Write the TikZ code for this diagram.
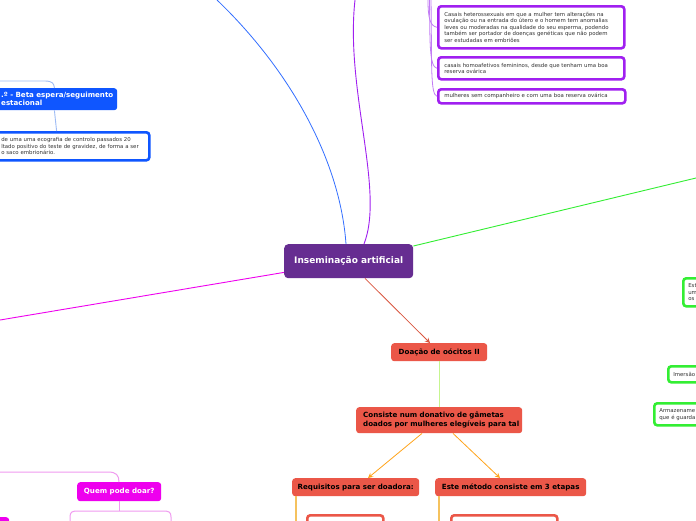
\documentclass[tikz,border=0pt]{standalone}
\usepackage{fontspec}
\setmainfont{DejaVu Sans}
\usetikzlibrary{arrows.meta,calc}
\definecolor{cpurple}{HTML}{662D91}
\definecolor{vpurple}{HTML}{A020F0}
\definecolor{lpurple}{HTML}{C27CF5}
\definecolor{cblue}{HTML}{0F56FF}
\definecolor{lblue}{HTML}{9EBBF5}
\definecolor{cgreen}{HTML}{33EE33}
\definecolor{cred}{HTML}{EB5748}
\definecolor{dred}{HTML}{D9553F}
\definecolor{lgreen}{HTML}{C6F58F}
\definecolor{corange}{HTML}{FFA41B}
\definecolor{cyellow}{HTML}{F5C25E}
\definecolor{cmag}{HTML}{EE00EE}
\definecolor{lmag}{HTML}{F09BF0}
\definecolor{tgray}{HTML}{333333}
\tikzset{
  base/.style={rounded corners=3pt, inner ysep=0pt, anchor=north west, align=left},
  smalltxt/.style={font=\fontsize{5.4}{6.6}\selectfont, text=tgray},
  headtxt/.style={font=\bfseries\fontsize{7.1}{9}\selectfont},
  centralbox/.style={base, fill=cpurple, text=white, font=\bfseries\fontsize{9}{10}\selectfont, align=center, rounded corners=4pt},
  purplebox/.style={base, smalltxt, draw=vpurple, line width=2.6pt, fill=white, inner xsep=6pt},
  greenbox/.style={base, smalltxt, draw=cgreen, line width=2.6pt, fill=white, inner xsep=5pt},
  bluenode/.style={base, headtxt, fill=cblue, text=white},
  bluebox/.style={base, smalltxt, draw=cblue, line width=2.6pt, fill=white},
  rednode/.style={base, headtxt, fill=cred, text=black},
  redbox/.style={base, draw=cred, line width=2.6pt, fill=white},
  magnode/.style={base, headtxt, fill=cmag, text=white, align=center},
  bluecurve/.style={draw=cblue!85!white, line width=0.8pt},
  purplecurve/.style={draw=vpurple, line width=0.9pt},
  lpline/.style={draw=lpurple, line width=0.8pt},
  lbline/.style={draw=lblue, line width=0.9pt},
  magline/.style={draw=cmag, line width=0.9pt},
  lmline/.style={draw=lmag, line width=1pt},
  greenline/.style={draw=cgreen, line width=0.9pt},
  redarrow/.style={draw=dred, line width=0.8pt, -{Stealth[length=5pt,width=5pt]}},
  orangearrow/.style={draw=corange, line width=0.8pt, -{Stealth[length=5pt,width=5pt]}},
  lgline/.style={draw=lgreen, line width=1.1pt},
  yline/.style={draw=cyellow, line width=1.1pt},
}
\begin{document}
\begin{tikzpicture}[x=1pt,y=-1pt]
\fill[white] (0,0) rectangle (696,520);
\useasboundingbox (0,0) rectangle (696,520);

% central
\node[centralbox, minimum width=129, minimum height=34] (ia) at (284,244) {Inseminação artificial};

% top purple boxes
\node[purplebox, minimum width=186, minimum height=42, text width=174] (p1) at (437,5)
 {Casais heterossexuais em que a mulher tem alterações na\\ovulação ou na entrada do útero e o homem tem anomalias\\leves ou moderadas na qualidade do seu esperma, podendo\\também ser portador de doenças genéticas que não podem\\ser estudadas em embriões};
\node[purplebox, minimum width=186, minimum height=22, text width=174] (p2) at (437,56)
 {casais homoafetivos femininos, desde que tenham uma boa\\reserva ovárica};
\node[purplebox, minimum width=187, minimum height=14, text width=175] (p3) at (437,88)
 {mulheres sem companheiro e com uma boa reserva ovárica};

\coordinate (lp1) at (428,0);
\coordinate (lp2) at (429.5,0);
\coordinate (lp3) at (431,0);
\draw[lpline] (lp1) .. controls (428,18) and (430,26) .. (p1.west);
\draw[lpline] (lp2) .. controls (430,40) and (429,67) .. (p2.west);
\draw[lpline] (lp3) .. controls (432,60) and (430,95) .. (p3.west);

% big curves
\coordinate (btop) at (217,0);
\coordinate (ptop) at (355,0);
\draw[bluecurve] ($(ia.north west)+(62,0)$) .. controls (340,160) and (290,70) .. (btop);
\draw[purplecurve] ($(ia.north west)+(80,0)$) .. controls (385,190) and (345,90) .. (ptop);

% blue section
\node[bluenode, minimum width=127, minimum height=22, text width=127, inner xsep=0pt, font=\bfseries\fontsize{7.1}{7.8}\selectfont] (bn) at (-10,88)
 {\hspace*{11pt}.º - Beta espera/seguimento\\\hspace*{11pt}estacional};
\node[bluebox, minimum width=158, minimum height=28, text width=150, inner xsep=4pt] (bt) at (-10,131)
 {\hspace*{6pt}de uma uma ecografia de controlo passados 20\\\hspace*{6pt}ltado positivo do teste de gravidez, de forma a ser\\\hspace*{6pt}o saco embrionário.};
\coordinate (lb0) at (0,81);
\draw[lbline] (lb0) -- (45,81) .. controls (53,81) and (54,84) .. ($(bn.north east)+(-63,0)$);
\draw[lbline] ($(bn.south east)+(-63,0)$) -- ($(bt.north east)+(-94,0)$);

% magenta and green main lines
\coordinate (mleft) at (0,320);
\coordinate (gright) at (696,178);
\draw[magline] ($(ia.south west)+(0,-6)$) -- (mleft);
\draw[greenline] ($(ia.north east)+(0,2)$) -- (gright);

% green boxes at right
\node[greenbox, minimum width=40, minimum height=28, text width=30] (g1) at (682,277) {Est\\um\\os};
\node[greenbox, minimum width=50, minimum height=16, text width=40] (g2) at (667,365) {Imersão};
\node[greenbox, minimum width=70, minimum height=22, text width=60] (g3) at (653,402) {Armazename\\que é guarda};

% red section
\node[rednode, minimum width=96, minimum height=18, align=center] (doa) at (391,343) {Doação de oócitos II};
\node[rednode, minimum width=166, minimum height=26, text width=162, inner xsep=2pt] (cons) at (356,407)
 {\hspace*{5pt}Consiste num donativo de gâmetas\\\hspace*{5pt}doados por mulheres elegíveis para tal};
\node[rednode, minimum width=127, minimum height=18, align=center] (req) at (292,478) {Requisitos para ser doadora:};
\node[rednode, minimum width=151, minimum height=18, align=center] (met) at (435,478) {Este método consiste em 3 etapas};
\node[redbox, minimum width=76, minimum height=30] (rb1) at (306,514) {};
\node[redbox, minimum width=106, minimum height=30] (rb2) at (450,514) {};

\draw[redarrow] ($(ia.south west)+(81,0)$) -- ($(doa.north west)+(39,0)$);
\draw[lgline] (doa.south) -- (cons.north);
\draw[orangearrow] ($(cons.south west)+(66,0)$) -- ($(req.north west)+(76,0)$);
\draw[orangearrow] ($(cons.south west)+(97,0)$) -- ($(met.north west)+(65,0)$);
\coordinate (y1) at (296,521);
\coordinate (y2) at (439,521);
\draw[yline] ($(req.south west)+(4,0)$) -- (y1);
\draw[yline] ($(met.south west)+(4,0)$) -- (y2);

% magenta section
\node[magnode, minimum width=84, minimum height=19] (qp) at (77,482) {Quem pode doar?};
\node[magnode, minimum width=60, minimum height=20] (mq2) at (-51,517) {};
\coordinate (ml0) at (0,472);
\coordinate (mb1) at (70,521);
\coordinate (mb2) at (171,521);
\draw[lmline] (ml0) -- (108,472) .. controls (116,472) and (119,475) .. ($(qp.north west)+(42,0)$);
\draw[lmline] ($(qp.south west)+(42,0)$) -- (119,511);
\draw[lmline] (mb1) -- (70,517) .. controls (70,512) and (72,511) .. (78,511) -- (163,511) .. controls (169,511) and (171,512) .. (171,517) -- (mb2);
\end{tikzpicture}
\end{document}
